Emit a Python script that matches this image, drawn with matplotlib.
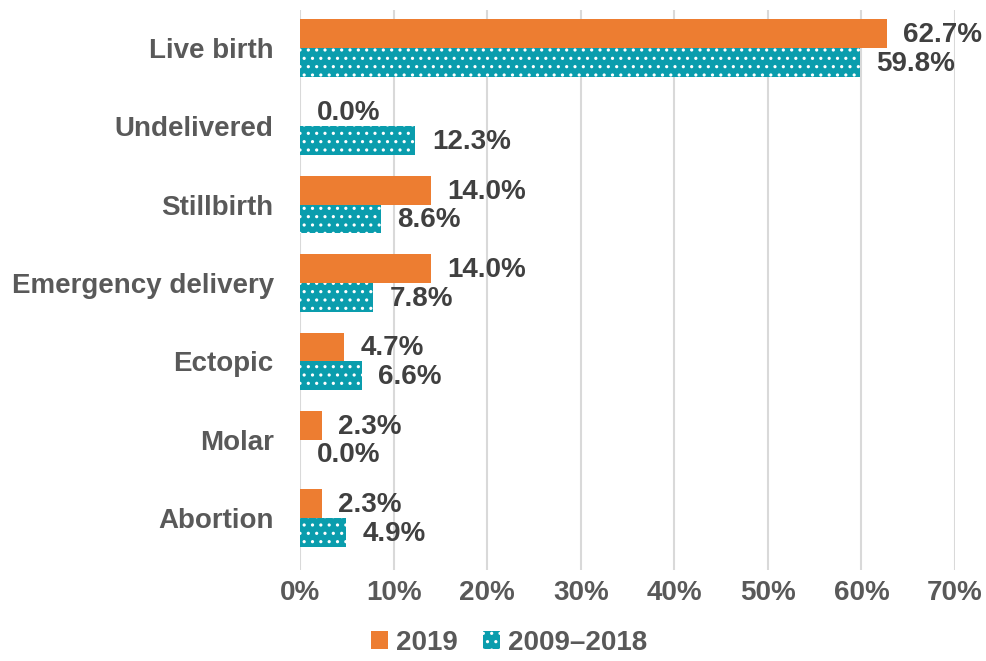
import matplotlib.pyplot as plt
import numpy as np

categories = ["Live birth", "Undelivered", "Stillbirth", "Emergency delivery",
              "Ectopic", "Molar", "Abortion"]
vals_2019 = [62.7, 0.0, 14.0, 14.0, 4.7, 2.3, 2.3]
vals_0918 = [59.8, 12.3, 8.6, 7.8, 6.6, 0.0, 4.9]
series_names = ["2019", "2009\u20132018"]

orange = "#ED7D31"
teal = "#0A9DAD"
txt = "#404040"
tick_col = "#595959"

plt.rcParams['font.family'] = ['Liberation Sans', 'DejaVu Sans']
plt.rcParams['hatch.linewidth'] = 1.1

fig = plt.figure(figsize=(9.87, 6.61), dpi=100)
ax = fig.add_axes([0.304, 0.138, 0.6636, 0.847])

y = np.arange(len(categories))
h = 0.365
fs = 20
b1 = ax.barh(y - h / 2, [v / 100 for v in vals_2019], height=h, color=orange,
             label=series_names[0])
b2 = ax.barh(y + h / 2, [v / 100 for v in vals_0918], height=h, color=teal,
             edgecolor="white", hatch="..", linewidth=0, label=series_names[1])

for bars, vals in ((b1, vals_2019), (b2, vals_0918)):
    for bar, v in zip(bars, vals):
        ax.annotate(f"{v:.1f}%", (bar.get_width(), bar.get_y() + bar.get_height() / 2),
                    xytext=(12, -1), textcoords="offset points", va="center", ha="left",
                    fontsize=fs, fontweight="bold", color=txt)

ax.set_xlim(0, 0.7)
ax.set_ylim(6.66, -0.485)
ax.set_xticks(np.arange(0, 0.71, 0.1))
ax.set_xticklabels([f"{int(round(t * 100))}%" for t in np.arange(0, 0.71, 0.1)])
ax.set_yticks(y)
ax.set_yticklabels(categories)
ax.tick_params(axis="both", length=0, labelsize=fs, colors=tick_col)
ax.tick_params(axis="y", pad=19)
ax.tick_params(axis="x", pad=7)
for lab in ax.get_xticklabels() + ax.get_yticklabels():
    lab.set_fontweight("bold")
for s in ax.spines.values():
    s.set_visible(False)
ax.grid(axis="x", color="#D9D9D9", linewidth=1.5)
ax.set_axisbelow(True)

leg = fig.legend(handles=[b1, b2], loc="lower center", bbox_to_anchor=(0.516, -0.03),
                 ncol=2, frameon=False, handlelength=0.6, handleheight=0.6,
                 handletextpad=0.3, columnspacing=0.9,
                 prop={"size": fs, "weight": "bold"})
for t in leg.get_texts():
    t.set_color(tick_col)

fig.savefig("out.png", dpi=100)
